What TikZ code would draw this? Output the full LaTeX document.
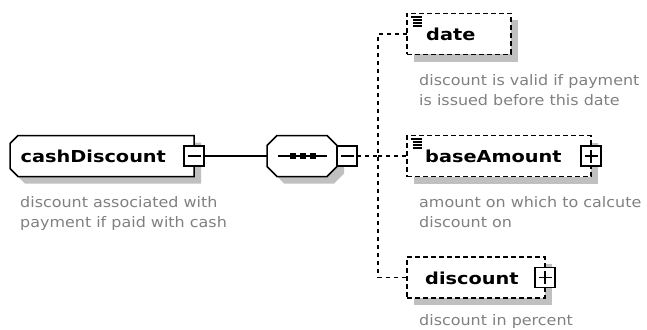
\documentclass[tikz,border=0pt]{standalone}
\usepackage{fontspec}
\setmainfont{DejaVu Sans}
\newfontfamily\titlefont{DejaVu Sans}[FakeStretch=1.17]
\newfontfamily\descfont{DejaVu Sans}[FakeStretch=1.1]
\usetikzlibrary{shadows}
\definecolor{shadowgray}{HTML}{C0C0C0}
\definecolor{descgray}{HTML}{808080}
\tikzset{
  frame/.style={inner sep=0pt, outer sep=0pt, draw=none},
  solidline/.style={draw=black, fill=white, line width=1.5pt, line join=miter},
  shadowfill/.style={fill=shadowgray},
  dashbox/.style={draw=black, fill=white, line width=1.5pt, dash pattern=on 5pt off 3pt, inner sep=0pt, outer sep=0pt, general shadow={fill=shadowgray, shadow xshift=7pt, shadow yshift=-7pt}},
  conn/.style={draw=black, line width=1.1pt},
  dconn/.style={draw=black, line width=1.3pt, dash pattern=on 4pt off 4pt},
  pmbox/.style={draw=black, fill=white, line width=1.2pt, minimum size=20pt, inner sep=0pt, outer sep=0pt},
  seqdot/.style={fill=black, minimum size=5.5pt, inner sep=0pt, outer sep=0pt},
  title/.style={font=\titlefont\bfseries\fontsize{16.5}{19}\selectfont, anchor=base west, inner sep=0pt},
  desc/.style={font=\descfont\fontsize{14.5}{20}\selectfont, text=descgray, anchor=base west, inner sep=0pt},
  iconline/.style={draw=black, line width=1.1pt},
}
\begin{document}
\begin{tikzpicture}[x=1pt, y=-1pt]
\useasboundingbox (0,0) rectangle (647,329);

% ---------- cashDiscount ----------
\node[frame, minimum width=184pt, minimum height=41pt] (cash) at (102,156) {};
\path[shadowfill] ([shift={(15,7)}]cash.north west) -- ([shift={(7,7)}]cash.north east)
  -- ([shift={(7,7)}]cash.south east) -- ([shift={(15,7)}]cash.south west)
  -- ([shift={(7,-1)}]cash.south west) -- ([shift={(7,15)}]cash.north west) -- cycle;
\path[solidline] ([shift={(8,0)}]cash.north west) -- (cash.north east)
  -- (cash.south east) -- ([shift={(8,0)}]cash.south west)
  -- ([shift={(0,-8)}]cash.south west) -- ([shift={(0,8)}]cash.north west) -- cycle;
\node[title] (cashT) at (20.5,162.5) {cashDiscount};

% ---------- sequence compositor ----------
\node[frame, minimum width=70pt, minimum height=41pt] (seq) at (302,156) {};
\path[shadowfill] ([shift={(17,7)}]seq.north west) -- ([shift={(-3,7)}]seq.north east)
  -- ([shift={(7,17)}]seq.north east) -- ([shift={(7,-3)}]seq.south east)
  -- ([shift={(-3,7)}]seq.south east) -- ([shift={(17,7)}]seq.south west)
  -- ([shift={(7,-3)}]seq.south west) -- ([shift={(7,17)}]seq.north west) -- cycle;
\path[solidline] ([shift={(10,0)}]seq.north west) -- ([shift={(-10,0)}]seq.north east)
  -- ([shift={(0,10)}]seq.north east) -- ([shift={(0,-10)}]seq.south east)
  -- ([shift={(-10,0)}]seq.south east) -- ([shift={(10,0)}]seq.south west)
  -- ([shift={(0,-10)}]seq.south west) -- ([shift={(0,10)}]seq.north west) -- cycle;
\draw[conn] ([xshift=11pt]seq.west) -- ([xshift=-10pt]seq.east);
\node[seqdot] (sq1) at (293,156) {};
\node[seqdot] (sq2) at (303,156) {};
\node[seqdot] (sq3) at (313,156) {};

% ---------- children ----------
\node[dashbox, minimum width=104pt, minimum height=41pt] (date) at (459,34) {};
\node[dashbox, minimum width=184pt, minimum height=41pt] (base) at (499,156) {};
\node[dashbox, minimum width=138pt, minimum height=41pt] (disc) at (476,277.5) {};

% icons
\draw[iconline] ([shift={(4,3.5)}]date.north west) -- ([shift={(15,3.5)}]date.north west);
\draw[iconline] ([shift={(6,6.5)}]date.north west) -- ([shift={(15,6.5)}]date.north west);
\draw[iconline] ([shift={(6,9.5)}]date.north west) -- ([shift={(15,9.5)}]date.north west);
\draw[iconline] ([shift={(6,12.5)}]date.north west) -- ([shift={(15,12.5)}]date.north west);
\draw[iconline] ([shift={(4,3.5)}]base.north west) -- ([shift={(15,3.5)}]base.north west);
\draw[iconline] ([shift={(6,6.5)}]base.north west) -- ([shift={(15,6.5)}]base.north west);
\draw[iconline] ([shift={(6,9.5)}]base.north west) -- ([shift={(15,9.5)}]base.north west);
\draw[iconline] ([shift={(6,12.5)}]base.north west) -- ([shift={(15,12.5)}]base.north west);

% ---------- connectors ----------
\coordinate (trunk) at (378,156);
\node[pmbox] (cashpm) at (cash.east) {};
\node[pmbox] (seqpm) at ([xshift=10pt]seq.east) {};
\node[pmbox] (basepm) at (base.east) {};
\node[pmbox] (discpm) at (disc.east) {};
\draw[conn] (cashpm.east) -- (seq.west);
\draw[dconn] (seqpm.east) -- (trunk);
\draw[dconn] (trunk) -- (base.west);
\draw[dconn] (date.west) -| (trunk) |- (disc.west);

% minus / plus signs
\draw[conn] ([xshift=-6.5pt]cashpm.center) -- ([xshift=6.5pt]cashpm.center);
\draw[conn] ([xshift=-6.5pt]seqpm.center) -- ([xshift=6.5pt]seqpm.center);
\draw[conn] ([xshift=-6.5pt]basepm.center) -- ([xshift=6.5pt]basepm.center);
\draw[conn] ([yshift=-6.5pt]basepm.center) -- ([yshift=6.5pt]basepm.center);
\draw[conn] ([xshift=-6.5pt]discpm.center) -- ([xshift=6.5pt]discpm.center);
\draw[conn] ([yshift=-6.5pt]discpm.center) -- ([yshift=6.5pt]discpm.center);

% ---------- titles ----------
\node[title] (dateT) at (426,40.5) {date};
\node[title] (baseT) at (425,162.5) {baseAmount};
\node[title] (discT) at (425,284) {discount};

% ---------- descriptions ----------
\node[desc] (cashD1) at (20,207.5) {discount associated with};
\node[desc] (cashD2) at (20,227.5) {payment if paid with cash};
\node[desc] (dateD1) at (419,85.5) {discount is valid if payment};
\node[desc] (dateD2) at (419,105.5) {is issued before this date};
\node[desc] (baseD1) at (419,207.5) {amount on which to calcute};
\node[desc] (baseD2) at (419,227.5) {discount on};
\node[desc] (discD1) at (419,325.5) {discount in percent};
\end{tikzpicture}
\end{document}
